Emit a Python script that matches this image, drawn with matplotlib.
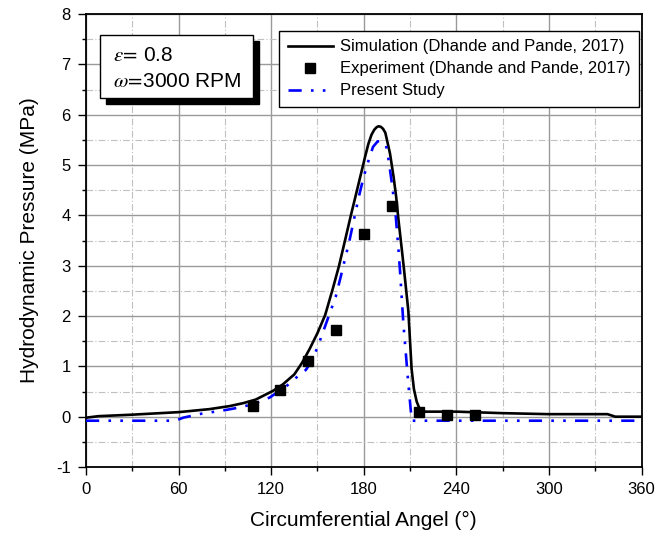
import matplotlib
matplotlib.use("Agg")
import matplotlib.pyplot as plt
from matplotlib.ticker import MultipleLocator
from matplotlib.patches import Rectangle

plt.rcParams['font.family'] = ['Liberation Sans', 'DejaVu Sans']
plt.rcParams['mathtext.fontset'] = 'stix'
plt.rcParams['axes.unicode_minus'] = False

# Simulation (Dhande and Pande, 2017)
sim_angle = [0, 8, 30, 60, 80, 93, 102, 110, 121, 127.5, 135, 140, 145, 150, 155, 160,
             164, 168, 171.5, 174.6, 178, 181, 183, 185, 186.8, 188.3, 189.6, 191, 192.5,
             194, 197, 199.3, 201, 202.5, 204.2, 206, 208.9, 211, 212.5, 214.3, 216,
             219.6, 240, 270, 300, 338, 343, 360]
sim_pressure = [-0.02, 0.01, 0.04, 0.09, 0.15, 0.21, 0.27, 0.34, 0.51, 0.64, 0.84, 1.07,
                1.35, 1.66, 2.02, 2.55, 3.00, 3.52, 3.98, 4.37, 4.80, 5.18, 5.42, 5.60,
                5.70, 5.75, 5.77, 5.76, 5.72, 5.64, 5.23, 4.77, 4.37, 3.91, 3.45, 2.95,
                2.10, 0.95, 0.55, 0.30, 0.17, 0.10, 0.10, 0.07, 0.05, 0.05, 0.0, 0.0]

# Experiment (Dhande and Pande, 2017)
exp_angle = [108, 126, 144, 162, 180, 198, 216, 234, 252]
exp_pressure = [0.21, 0.54, 1.11, 1.72, 3.62, 4.18, 0.10, 0.04, 0.04]

# Present Study
ps_angle = [0, 58, 63, 75, 90, 95.4, 102, 110, 119, 129.6, 136, 142.5, 146.8, 151, 156.4,
            161.8, 165, 168.2, 170.4, 173.6, 176.8, 180, 183.2, 186, 189, 192, 194.4,
            196.1, 198.2, 200.4, 202.5, 203.6, 205.7, 208.9, 211.1, 360]
ps_pressure = [-0.08, -0.08, -0.02, 0.06, 0.13, 0.16, 0.20, 0.27, 0.38, 0.60, 0.77, 0.93,
               1.13, 1.46, 1.92, 2.38, 2.77, 3.18, 3.45, 3.91, 4.37, 4.77, 5.10, 5.36,
               5.47, 5.47, 5.40, 5.10, 4.64, 4.11, 3.32, 2.85, 1.84, 0.65, -0.08, -0.08]

xticks = [0, 60, 120, 180, 240, 300, 360]
yticks = [-1, 0, 1, 2, 3, 4, 5, 6, 7, 8]

fig = plt.figure(figsize=(6.56, 5.33), dpi=100)
ax = fig.add_axes([0.1311, 0.1238, 0.8468, 0.8499])

ax.plot(sim_angle, sim_pressure, color='black', lw=1.9,
        label='Simulation (Dhande and Pande, 2017)', zorder=3)
ax.plot(exp_angle, exp_pressure, linestyle='none', marker='s', ms=7.5, color='black',
        label='Experiment (Dhande and Pande, 2017)', zorder=4)
ax.plot(ps_angle, ps_pressure, color='#0000ff', lw=1.9,
        linestyle=(0, (5, 3.5, 1, 3.5, 1, 3.5)), label='Present Study', zorder=3)

ax.set_xlim(0, 360)
ax.set_ylim(-1, 8)
ax.set_xticks(xticks)
ax.set_yticks(yticks)
ax.xaxis.set_minor_locator(MultipleLocator(30))
ax.yaxis.set_minor_locator(MultipleLocator(0.5))
ax.tick_params(which='both', direction='out', top=False, right=False, labelsize=12,
               width=1.0, colors='black')
ax.tick_params(which='major', length=6, pad=5)
ax.tick_params(which='minor', length=3)
ax.grid(which='major', color='#9a9a9a', lw=1.0, ls='-')
ax.grid(which='minor', color='#c0c0c0', lw=0.8, ls=(0, (6, 2, 1, 2)))
ax.set_axisbelow(True)
for s in ax.spines.values():
    s.set_linewidth(1.3)

ax.set_xlabel('Circumferential Angel (°)', fontsize=15, labelpad=10)
ax.set_ylabel('Hydrodynamic Pressure (MPa)', fontsize=15, labelpad=12)

leg = ax.legend(loc='upper right', bbox_to_anchor=(0.9955, 0.9625), borderaxespad=0,
                fontsize=12, frameon=True, fancybox=False, edgecolor='black',
                framealpha=1, handlelength=2.7, handletextpad=0.45, borderpad=0.5,
                labelspacing=0.42)
leg.get_frame().set_linewidth(1.0)

# annotation box with drop shadow
bx0, by0, bw, bh = 0.0252, 0.8146, 0.2754, 0.139
shadow = Rectangle((bx0 + 0.0108, by0 - 0.0132), bw, bh, transform=ax.transAxes,
                   facecolor='black', edgecolor='black', zorder=5)
box = Rectangle((bx0, by0), bw, bh, transform=ax.transAxes,
                facecolor='white', edgecolor='black', lw=1.0, zorder=6)
ax.add_patch(shadow)
ax.add_patch(box)
ax.text(bx0 + 0.024, by0 + bh * 0.68, r'$\varepsilon\!=\!$ 0.8', transform=ax.transAxes,
        fontsize=15, va='center', ha='left', zorder=7)
ax.text(bx0 + 0.024, by0 + bh * 0.27, r'$\omega\!=\!$3000 RPM', transform=ax.transAxes,
        fontsize=15, va='center', ha='left', zorder=7)

fig.savefig('out.png', dpi=100)
